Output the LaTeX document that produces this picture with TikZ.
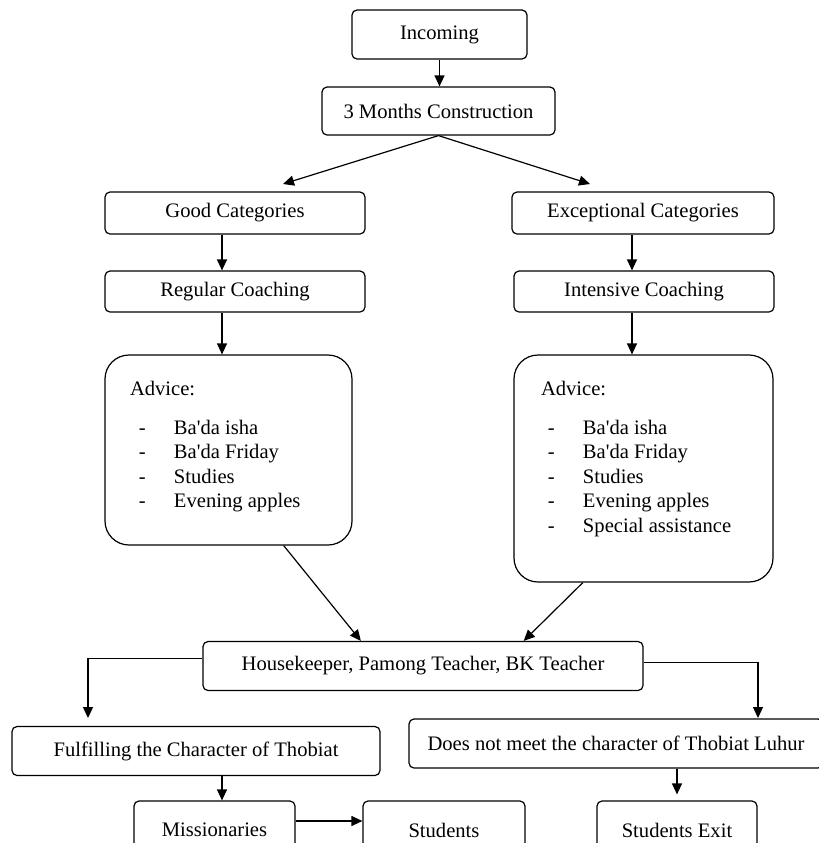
\documentclass[tikz,border=0pt]{standalone}
\usepackage{fontspec}
\setmainfont{Liberation Serif}
\usetikzlibrary{arrows.meta}
\newcommand{\advitem}[1]{\hspace*{17pt}\makebox[17.5pt][l]{-}#1\par}
\begin{document}
\begin{tikzpicture}[x=0.5pt, y=-0.5pt, >={Triangle[length=5.5pt,width=5pt]}, line width=0.6pt,
    box/.style={draw, rounded corners=2.5pt, minimum height=24.5pt, inner sep=0pt, font=\fontsize{10.3}{12.25}\selectfont},
    advbox/.style={draw, rounded corners=12pt, inner sep=0pt, font=\fontsize{10.3}{12.25}\selectfont}]
\useasboundingbox (0,0) rectangle (819,843);
\clip (0,0) rectangle (819,843);

\node[box, minimum width=87.5pt] (inc) at (439.5,34.5) {Incoming};
\node[box, minimum width=116.5pt, minimum height=24pt] (cons) at (438.5,111) {3 Months Construction};
\node[box, minimum width=130pt, minimum height=21pt] (good) at (235,213) {Good Categories};
\node[box, minimum width=131pt, minimum height=21pt] (exc) at (643,213) {Exceptional Categories};
\node[box, minimum width=130pt, minimum height=20.5pt] (reg) at (235,291.5) {Regular Coaching};
\node[box, minimum width=130pt, minimum height=20.5pt] (int) at (644,291.5) {Intensive Coaching};

\node[advbox] (adv1) at (228.5,450) {\parbox[c][95pt][t]{123.5pt}{\vspace*{13pt}\hspace*{12.5pt}Advice:\par\vspace{7.25pt}
    \advitem{Ba\textquotesingle da isha}\advitem{Ba\textquotesingle da Friday}\advitem{Studies}\advitem{Evening apples}}};
\node[advbox] (adv2) at (643.5,468.5) {\parbox[c][113.5pt][t]{129.5pt}{\vspace*{13pt}\hspace*{13.5pt}Advice:\par\vspace{7.25pt}
    \advitem{Ba\textquotesingle da isha}\advitem{Ba\textquotesingle da Friday}\advitem{Studies}\advitem{Evening apples}\advitem{Special assistance}}};

\node[box, minimum width=220pt] (hk) at (423,666) {Housekeeper, Pamong Teacher, BK Teacher};
\node[box, minimum width=184pt] (ful) at (196,751) {Fulfilling the Character of Thobiat};
\node[box, minimum width=207pt] (dnm) at (616,743.5) {Does not meet the character of Thobiat Luhur};
\node[box, minimum width=80.5pt, minimum height=29pt] (mis) at (214.5,830) {Missionaries};
\node[box, minimum width=81pt, minimum height=29pt] (stu) at (444,830) {Students};
\node[box, minimum width=80pt, minimum height=29pt] (sex) at (677,830) {Students Exit};

% free ends and columns of the vertical arrows
\coordinate (good-in) at (283,184);
\coordinate (exc-in) at (590,184);
\coordinate (ful-in) at (88,718);
\coordinate (dnm-in) at (758,718);
\coordinate (lcol) at (222,0);
\coordinate (rcol) at (632,0);

\draw[->] (inc.south) -- (inc.south |- cons.north);
\draw[->] (cons.south) -- (good-in);
\draw[->] (cons.south) -- (exc-in);
\draw[->] (good.south -| lcol) -- (reg.north -| lcol);
\draw[->] (exc.south -| rcol) -- (int.north -| rcol);
\draw[->] (reg.south -| lcol) -- (adv1.north -| lcol);
\draw[->] (int.south -| rcol) -- (adv2.north -| rcol);
\draw[->] (adv1.-60.6) -- (hk.158.75);
\draw[->] (adv2.-118.1) -- (hk.14.9);
\draw[->] (hk.178.6) -| (ful-in);
\draw[->] (hk.1.4) -| (dnm-in);
\draw[->] (ful.south -| lcol) -- (mis.north -| lcol);
\draw[->] ([yshift=4.5pt]mis.east) -- ([yshift=4.5pt]stu.west);
\draw[->, shorten >=3pt] (dnm.south -| sex) -- (sex.north);
\end{tikzpicture}
\end{document}
